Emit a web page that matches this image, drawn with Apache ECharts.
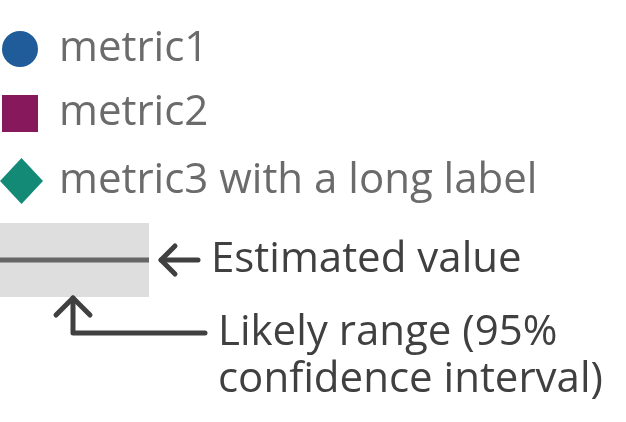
<!DOCTYPE html>
<html>
<head>
<meta charset="utf-8">
<script src="https://cdn.jsdelivr.net/npm/echarts@6/dist/echarts.min.js"></script>
<style>
  html, body { margin: 0; padding: 0; background: #fff; }
  #legendKey { width: 626px; height: 422px; }
</style>
</head>
<body>
<div id="legendKey"></div>
<script>
// legend entries
var metricNames = ['metric1', 'metric2', 'metric3 with a long label'];
var metricIcons = ['circle', 'rect', 'diamond'];
var metricColors = ['#1f5c99', '#88185c', '#128a76'];
// annotation texts for the estimate / interval key
var keyLabels = ['Estimated value', 'Likely range (95%\nconfidence interval)'];

var fontName = '"Open Sans", sans-serif';
var arrowColor = '#404040';

var myChart = echarts.init(document.getElementById('legendKey'));

// one legend block per entry so each icon can have its own size
var iconSizes = [[36, 36], [36, 37], [43, 46]];
var iconLeft = [2, 2, 0];
var iconCenterY = [47, 111.5, 179];

var legends = metricNames.map(function (name, i) {
    return {
        data: [{ name: name, icon: metricIcons[i], itemStyle: { opacity: 1 } }],
        orient: 'horizontal',
        left: iconLeft[i],
        top: iconCenterY[i] - 23,
        padding: 0,
        itemWidth: iconSizes[i][0],
        itemHeight: iconSizes[i][1],
        itemGap: 0,
        selectedMode: false,
        textStyle: {
            color: '#6b6b6b',
            fontFamily: fontName,
            fontSize: 42,
            lineHeight: 48,
            // legend puts 5px between icon and text, text starts near x=59
            padding: [2, 0, 0, 59 - iconLeft[i] - iconSizes[i][0] - 5]
        }
    };
});

var series = metricNames.map(function (name, i) {
    return {
        name: name,
        type: 'scatter',
        symbol: metricIcons[i],
        itemStyle: { color: metricColors[i], opacity: 1 },
        data: []
    };
});

var option = {
    animation: false,
    legend: legends,
    grid: { left: 0, right: 0, top: 0, bottom: 0, show: false },
    xAxis: { type: 'value', show: false },
    yAxis: { type: 'value', show: false },
    series: series,
    graphic: [
        // confidence band sample
        {
            type: 'rect',
            shape: { x: 0, y: 223, width: 149, height: 74 },
            style: { fill: '#dedede' }
        },
        {
            type: 'line',
            shape: { x1: 0, y1: 260, x2: 149, y2: 260 },
            style: { stroke: '#666666', lineWidth: 5 }
        },
        // arrow to the estimate line
        {
            type: 'polyline',
            shape: { points: [[198, 260], [161, 260]] },
            style: { stroke: arrowColor, lineWidth: 5, lineCap: 'round' }
        },
        {
            type: 'polyline',
            shape: { points: [[175, 246], [161, 260], [175, 274]] },
            style: { stroke: arrowColor, lineWidth: 5, lineCap: 'round', lineJoin: 'round', fill: null }
        },
        // arrow to the band
        {
            type: 'polyline',
            shape: { points: [[73, 298], [73, 333], [205, 333]] },
            style: { stroke: arrowColor, lineWidth: 5, lineCap: 'round', lineJoin: 'round', fill: null }
        },
        {
            type: 'polyline',
            shape: { points: [[56, 315], [73, 298], [90, 315]] },
            style: { stroke: arrowColor, lineWidth: 5, lineCap: 'round', lineJoin: 'round', fill: null }
        },
        {
            type: 'text',
            left: 211,
            top: 239,
            style: {
                text: keyLabels[0],
                fill: arrowColor,
                font: '42px ' + fontName
            }
        },
        {
            type: 'text',
            x: 218,
            y: 310,
            style: {
                text: keyLabels[1],
                fill: arrowColor,
                font: '42px ' + fontName,
                lineHeight: 47,
                verticalAlign: 'top'
            }
        }
    ]
};

myChart.setOption(option);
</script>
</body>
</html>
